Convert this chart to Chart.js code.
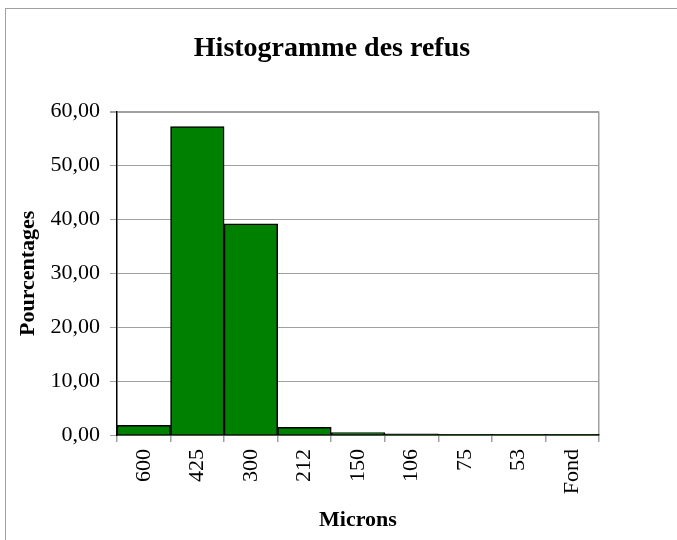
<!DOCTYPE html>
<html>
<head>
<meta charset="utf-8">
<title>Histogramme des refus</title>
<script src="https://cdn.jsdelivr.net/npm/chart.js@4/dist/chart.umd.min.js"></script>
<style>
    body { margin: 0; overflow: hidden; background: #fff; }
    .frame { position: relative; width: 677px; height: 540px; }
    .frame-border { position: absolute; left: 5px; top: 8px; width: 700px; height: 600px; border-left: 1px solid #a0a0a0; border-top: 1px solid #a0a0a0; }
    #refus-chart { position: absolute; left: 0; top: 0; }
</style>
</head>
<body>
<div class="frame">
    <div class="frame-border"></div>
    <canvas id="refus-chart" width="677" height="540"></canvas>
</div>
<script>
// tamis (microns) et pourcentages des refus
const tamisLabels = ["600", "425", "300", "212", "150", "106", "75", "53", "Fond"];
const refusValues = [1.8, 57.2, 39.2, 1.4, 0.45, 0.2, 0.05, 0.03, 0.02];
const yTicks = [0, 10, 20, 30, 40, 50, 60];

const fontFamily = "'Liberation Serif', 'Times New Roman', serif";
const gridGrey = "#a0a0a0";

//-----------------------
const formatFr = (v) => Number(v).toFixed(2).replace(".", ",");

//-----------------------
const generateRefusGraph = () => {

    const refusGraph = new Chart(
        document.getElementById("refus-chart"), {
            type: "bar",
            data: {
                labels: tamisLabels,
                datasets: [{
                    label: "Refus",
                    data: refusValues,
                    backgroundColor: "#008000",
                    borderColor: "#000000",
                    borderWidth: 1.5,
                    barPercentage: 1,
                    categoryPercentage: 1
                }]
            },
            options: {
                responsive: false,
                animation: false,
                layout: { padding: { left: 0, right: 13, top: 0, bottom: 0 } },
                plugins: {
                    legend: { display: false },
                    tooltip: { enabled: false },
                    title: {
                        display: true,
                        text: "Histogramme des refus",
                        color: "#000",
                        font: { family: fontFamily, size: 28, weight: "bold" },
                        padding: { top: 32, bottom: 46 }
                    }
                },
                scales: {
                    x: {
                        offset: true,
                        grid: {
                            offset: true,
                            // only the right edge of the plot is drawn
                            color: (ctx) => ctx.index === undefined ? gridGrey : "rgba(0,0,0,0)",
                            lineWidth: 1.5,
                            tickColor: gridGrey,
                            tickLength: 7
                        },
                        border: { color: "#000", width: 1.5 },
                        ticks: {
                            color: "#000",
                            font: { family: fontFamily, size: 22 },
                            minRotation: 90,
                            maxRotation: 90,
                            padding: 7
                        },
                        title: {
                            display: true,
                            text: "Microns",
                            color: "#000",
                            font: { family: fontFamily, size: 22, weight: "bold" },
                            padding: { top: 0, bottom: 6 }
                        },
                        afterFit: (scale) => { scale.height = 105; }
                    },
                    y: {
                        min: 0,
                        max: 60,
                        afterBuildTicks: (scale) => { scale.ticks = yTicks.map(v => ({ value: v })); },
                        grid: {
                            color: gridGrey,
                            lineWidth: (ctx) => ctx.tick && ctx.tick.value === 60 ? 2 : 1,
                            tickColor: gridGrey,
                            tickLength: 7
                        },
                        border: { color: "#000", width: 1.5 },
                        ticks: {
                            color: "#000",
                            font: { family: fontFamily, size: 22 },
                            padding: 10,
                            callback: (v) => formatFr(v)
                        },
                        title: {
                            display: true,
                            text: "Pourcentages",
                            color: "#000",
                            font: { family: fontFamily, size: 22, weight: "bold" },
                            padding: { top: 15, bottom: 0 }
                        },
                        afterFit: (scale) => { scale.width = 117; }
                    },
                    // empty space on the right, keeps the title centred like the original
                    spacer: {
                        type: "linear",
                        position: "right",
                        grid: { drawOnChartArea: false, drawTicks: false },
                        border: { display: false },
                        ticks: { display: false },
                        afterFit: (scale) => { scale.width = 65; }
                    }
                }
            }
        }
    );
    return refusGraph;
}
//-----------------------
generateRefusGraph();
</script>
</body>
</html>
